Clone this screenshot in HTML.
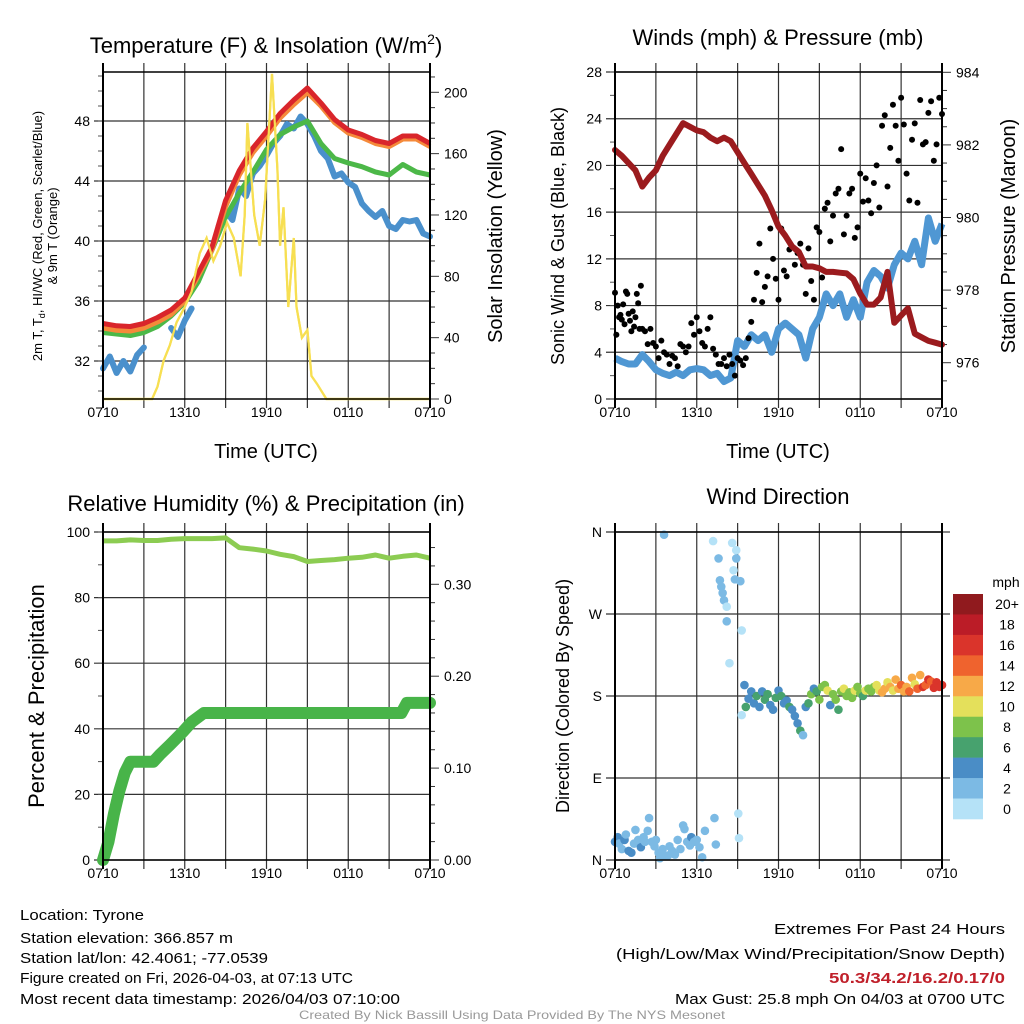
<!DOCTYPE html>
<html><head><meta charset="utf-8"><style>
html,body{margin:0;padding:0;background:#fff;}
svg{display:block;font-family:"Liberation Sans",sans-serif;}
</style></head><body>
<svg id="fig" width="1024" height="1024" viewBox="0 0 1024 1024" xmlns="http://www.w3.org/2000/svg">
<rect width="1024" height="1024" fill="#fff"/>
<g id="g1"></g>
<g id="g2"></g>
<g id="g3"></g>
<g id="g4"></g>
<text x="266" y="53" font-size="22" text-anchor="middle">Temperature (F) &amp; Insolation (W/m<tspan font-size="14" dy="-9">2</tspan><tspan dy="9">)</tspan></text>
<text x="778" y="45" font-size="22" text-anchor="middle">Winds (mph) &amp; Pressure (mb)</text>
<text x="266" y="511" font-size="22" text-anchor="middle">Relative Humidity (%) &amp; Precipitation (in)</text>
<text x="778" y="504" font-size="22" text-anchor="middle">Wind Direction</text>
<text transform="translate(42,236) rotate(-90)" font-size="13" text-anchor="middle">2m T, T<tspan font-size="9" dy="3">d</tspan><tspan dy="-3">, HI/WC (Red, Green, Scarlet/Blue)</tspan></text>
<text transform="translate(57,236) rotate(-90)" font-size="13" text-anchor="middle">&amp; 9m T (Orange)</text>
<text transform="translate(502,236) rotate(-90)" font-size="20" text-anchor="middle">Solar Insolation (Yellow)</text>
<text x="266" y="458" font-size="20" text-anchor="middle">Time (UTC)</text>
<text x="778" y="458" font-size="20" text-anchor="middle">Time (UTC)</text>
<text transform="translate(564,236) rotate(-90)" font-size="18" text-anchor="middle">Sonic Wind &amp; Gust (Blue, Black)</text>
<text transform="translate(1015,236) rotate(-90)" font-size="20" text-anchor="middle">Station Pressure (Maroon)</text>
<text transform="translate(44,696) rotate(-90)" font-size="22" text-anchor="middle">Percent &amp; Precipitation</text>
<text transform="translate(569,696) rotate(-90)" font-size="18" text-anchor="middle">Direction (Colored By Speed)</text>
<g font-size="15">
<text x="20" y="920" textLength="124" lengthAdjust="spacingAndGlyphs">Location: Tyrone</text>
<text x="20" y="943" textLength="213" lengthAdjust="spacingAndGlyphs">Station elevation: 366.857 m</text>
<text x="20" y="963" textLength="248" lengthAdjust="spacingAndGlyphs">Station lat/lon: 42.4061; -77.0539</text>
<text x="20" y="983" textLength="333" lengthAdjust="spacingAndGlyphs">Figure created on Fri, 2026-04-03, at 07:13 UTC</text>
<text x="20" y="1004" textLength="380" lengthAdjust="spacingAndGlyphs">Most recent data timestamp: 2026/04/03 07:10:00</text>
</g>
<g font-size="15" text-anchor="end">
<text x="1005" y="934" textLength="231" lengthAdjust="spacingAndGlyphs">Extremes For Past 24 Hours</text>
<text x="1005" y="959" textLength="389" lengthAdjust="spacingAndGlyphs">(High/Low/Max Wind/Precipitation/Snow Depth)</text>
<text x="1005" y="983" font-weight="bold" fill="#c0202a" textLength="176" lengthAdjust="spacingAndGlyphs">50.3/34.2/16.2/0.17/0</text>
<text x="1005" y="1004" textLength="330" lengthAdjust="spacingAndGlyphs">Max Gust: 25.8 mph On 04/03 at 0700 UTC</text>
</g>
<text x="512" y="1019" font-size="12" fill="#999" text-anchor="middle" textLength="426" lengthAdjust="spacingAndGlyphs">Created By Nick Bassill Using Data Provided By The NYS Mesonet</text>
</svg>
<script>
// ---- data ----
const xTickLabels = ["0710","1310","1910","0110","0710"];
const hourT = [0,1,2,3,4,5,6,7,8,9,10,11,12,13,14,15,16,17,18,19,20,21,22,23,24];
const tempRed = [34.5,34.35,34.3,34.5,34.9,35.4,36.2,37.9,39.6,42.7,44.7,46.2,47.3,48.5,49.4,50.2,49.2,48.1,47.4,47.1,46.7,46.5,47.0,47.0,46.5];
const tempOrange = [34.2,34.05,34.0,34.2,34.6,35.1,36.0,37.7,39.4,42.3,44.4,45.9,47.0,48.2,49.1,49.9,49.0,47.9,47.2,46.9,46.5,46.3,46.8,46.8,46.3];
const tempGreen = [33.9,33.8,33.7,33.9,34.3,35.0,35.9,37.3,39.4,41.6,43.2,44.6,46.1,47.1,47.6,48.0,46.5,45.5,45.2,44.95,44.6,44.4,45.1,44.6,44.4];
const halfT = [0,0.5,1,1.5,2,2.5,3,3.5,4,4.5,5,5.5,6,6.5,7,7.5,8,8.5,9,9.5,10,10.5,11,11.5,12,12.5,13,13.5,14,14.5,15,15.5,16,16.5,17,17.5,18,18.5,19,19.5,20,20.5,21,21.5,22,22.5,23,23.5,24];
const tempBlue = [31.5,32.3,31.2,32.0,31.3,32.4,32.9,null,null,null,34.2,33.6,34.7,35.5,null,null,null,41.0,42.0,41.4,43.5,43.0,44.5,45.0,45.7,46.5,47.0,47.8,47.5,48.3,47.8,47.0,46.0,45.5,44.3,44.5,43.9,43.6,42.5,42.0,41.6,42.0,41.0,40.8,41.4,41.3,41.4,40.5,40.3];
const solarT = [0,3.6,4.0,4.45,4.9,5.4,6.0,6.5,7.1,7.6,8.1,8.6,9.1,9.6,10.1,10.4,10.6,11.1,11.5,11.9,12.4,12.8,13.0,13.25,13.6,14.0,14.2,14.6,15.0,15.3,15.7,16.4,24];
const solarV = [0,0,8,25,35,50,60,70,95,105,90,100,115,105,80,120,180,120,100,130,212,150,100,125,60,105,60,40,45,15,10,0,0];
const windBlue = [3.5,3.2,3.0,3.0,3.8,3.2,2.5,2.2,2.0,2.3,2.0,2.5,2.6,2.5,2.0,2.2,1.5,1.8,5.0,4.5,5.5,5.0,5.5,4.0,6.0,6.5,6.0,5.5,3.5,6.0,7.0,9.0,8.0,9.0,7.0,8.5,7.0,10.0,11.0,10.5,9.5,11.5,12.5,12.0,13.5,11.5,15.5,13.5,15.0];
const pressure = [981.86,981.7,981.5,981.3,980.85,981.1,981.3,981.7,982.0,982.3,982.6,982.5,982.4,982.35,982.2,982.1,982.2,982.1,981.8,981.5,981.2,980.9,980.6,980.2,979.75,979.5,979.2,979.05,978.65,978.65,978.6,978.5,978.5,978.48,978.46,978.3,977.9,977.6,977.6,977.8,978.5,977.1,977.3,977.5,976.8,976.7,976.6,976.55,976.5];
const gustT = [0.0,0.1,0.2,0.3,0.4,0.5,0.6,0.7,0.8,0.9,1.0,1.1,1.2,1.3,1.4,1.5,1.6,1.7,1.8,1.9,2.0,2.2,2.4,2.6,2.8,3.0,3.2,3.4,3.6,3.8,4.0,4.2,4.4,4.6,4.8,5.0,5.2,5.4,5.6,5.8,6.0,6.2,6.4,6.6,6.8,7.0,7.2,7.4,7.6,7.8,8.0,8.2,8.4,8.6,8.8,9.0,9.2,9.4,9.6,9.8,10.0,10.2,10.4,10.6,10.8,11.0,11.2,11.4,11.6,11.8,12.0,12.2,12.4,12.6,12.8,13.0,13.2,13.4,13.6,13.8,14.0,14.2,14.4,14.6,14.8,15.0,15.2,15.4,15.6,15.8,16.0,16.2,16.4,16.6,16.8,17.0,17.2,17.4,17.6,17.8,18.0,18.2,18.4,18.6,18.8,19.0,19.2,19.4,19.6,19.8,20.0,20.2,20.4,20.6,20.8,21.0,21.2,21.4,21.6,21.8,22.0,22.2,22.4,22.6,22.8,23.0,23.2,23.4,23.6,23.8,24.0];
const gustV = [9.1,5.5,8.0,7.0,7.2,6.8,8.1,6.4,9.2,9.0,7.3,6.7,5.8,7.5,6.2,7.0,9.0,8.2,6.0,9.7,6.0,5.8,4.7,6.0,4.8,4.5,3.5,5.0,4.0,3.8,3.0,3.7,3.5,2.8,4.7,4.5,4.0,4.5,6.5,5.5,7.0,5.8,4.8,4.5,6.0,7.0,4.3,3.8,3.0,3.0,3.5,2.8,3.8,3.0,2.0,3.5,3.3,2.9,3.5,5.2,6.6,8.5,10.8,13.3,8.3,9.6,10.5,14.6,12.0,10.3,8.5,14.6,11.0,10.5,12.8,13.0,11.5,12.5,13.3,11.5,9.0,12.9,10.1,8.5,14.7,14.3,10.4,16.3,16.8,13.5,15.7,17.6,18.0,21.4,14.1,15.7,17.6,18.0,13.8,14.7,19.3,16.9,18.9,17.0,15.9,18.5,20.0,16.4,23.4,24.3,18.2,21.5,25.2,23.4,20.4,25.8,23.5,19.3,17.0,22.2,23.6,16.8,25.6,21.8,22.0,24.5,25.5,20.4,21.8,25.8,24.4];
const rh = [97.3,97.3,97.6,97.4,97.4,97.8,98.0,98.0,98.0,98.2,95.2,94.8,94.2,93.2,92.5,91.0,91.3,91.6,92.0,92.3,93.0,92.0,92.6,93.0,92.0];
const precipT = [0,0.4,0.8,1.2,1.6,2.0,3.7,4.2,4.9,5.9,6.5,7.4,21.9,22.3,24];
const precipV = [0,0.02,0.05,0.075,0.095,0.107,0.107,0.115,0.125,0.14,0.15,0.16,0.16,0.171,0.171];
const wdT = [0.0,0.2,0.3,0.5,0.7,0.8,1.0,1.2,1.4,1.5,1.7,1.9,2.1,2.2,2.4,2.5,2.7,2.9,3.0,3.2,3.3,3.5,3.7,3.9,4.0,4.2,4.4,4.6,4.8,5.0,5.1,5.3,5.5,5.6,5.8,6.0,6.2,6.4,6.6,7.3,7.4,
 3.6,7.2,7.6,7.7,7.8,7.9,8.0,8.2,8.2,8.4,8.6,8.7,8.8,8.9,8.9,9.05,9.1,9.2,9.3,
 9.3,9.5,9.6,9.8,10.0,10.2,10.4,10.6,10.8,11.0,11.2,11.4,11.6,11.8,12.0,12.2,12.4,12.6,12.8,13.0,13.2,13.4,13.6,13.8,14.0,14.2,14.4,14.6,14.8,15.0,15.2,15.4,15.6,15.8,16.0,16.2,16.4,16.6,16.8,17.0,17.2,17.4,17.6,17.8,18.0,18.2,18.4,18.6,18.8,19.0,19.2,19.4,19.6,19.8,20.0,20.2,20.4,20.6,20.8,21.0,21.2,21.4,21.6,21.8,22.0,22.2,22.4,22.6,22.8,23.0,23.2,23.4,23.6,23.8,24.0];
const wdDir = [20,25,18,12,22,28,10,8,18,33,22,14,25,20,32,46,20,15,22,8,2,12,4,5,15,10,6,22,12,38,34,20,16,25,20,22,14,3,32,46,17,
 357,350,331,307,300,293,285,278,262,216,348,318,308,340,331,51,24,306,252,
 159,192,168,177,185,172,180,168,185,176,182,170,165,178,186,180,172,175,168,165,158,150,142,137,168,172,182,188,185,176,190,192,186,170,182,176,165,185,188,180,184,178,186,190,183,180,186,188,185,190,192,186,184,188,195,190,186,198,188,192,185,190,185,200,193,188,203,190,192,198,196,189,195,190,192];
const wdSpd = [4,4,3,3,4,3,5,4,3,3,3,5,3,3,3,3,3,3,3,2,3,3,2,3,3,2,3,3,3,2,3,3,3,4,3,3,3,3,3,2,2,
 3,1,3,3,3,3,3,1,3,1,1,1,3,1,3,1,1,3,1,
 1,4,6,5,4,5,6,4,5,7,6,5,4,6,5,6,4,5,6,5,4,5,6,2,4,7,8,5,7,8,9,8,10,5,8,9,7,8,10,9,9,8,10,8,9,7,10,9,8,9,11,10,12,13,10,12,11,13,12,14,13,12,15,12,11,15,13,16,14,16,15,17,17,16,17];
const speedColors = ["#b5e2f7","#7cbae4","#4a8dc6","#47a26e","#7dc24b","#e4e05b","#f7a948","#ef632e","#da342b","#bb1c27","#901a1e"];
const speedLabels = ["0","2","4","6","8","10","12","14","16","18","20+"];

// ---- helpers ----
const NS="http://www.w3.org/2000/svg";
function mk(parent,tag,attrs){const e=document.createElementNS(NS,tag);for(const k in attrs)e.setAttribute(k,attrs[k]);parent.appendChild(e);return e;}
const X0=103, X1=430;
function axX(off){return t=>off+X0+t/24*(X1-X0);}
function linear(d0,d1,r0,r1){return v=>r0+(v-d0)/(d1-d0)*(r1-r0);}
function frame(g,off,top,bot){
  const xs=axX(off);
  for(let k=0;k<=8;k++){const x=xs(k*3);
    const l=mk(g,'line',{x1:x,x2:x,y1:top-9,y2:bot+9,stroke:'#333','stroke-width':1.2});
    
    
  }
  xTickLabels.forEach((s,i)=>{const t=mk(g,'text',{x:xs(i*6),y:bot+18,'font-size':14,'text-anchor':'middle'});t.textContent=s;
    
    
  });
}
function hgrid(g,off,ys,top,bot,label,minors,rightTicks){
  ys.forEach(([y,s])=>{
    const l=mk(g,'line',{x1:off+X0-9,x2:off+X1,y1:y,y2:y,stroke:'#333','stroke-width':1.2});
    
    
    const t=mk(g,'text',{x:off+X0-13,y:y+5,'font-size':14,'text-anchor':'end'});t.textContent=s;
    
    
  });
  (minors||[]).forEach(y=>mk(g,'line',{x1:off+X0-5,x2:off+X0,y1:y,y2:y,stroke:'#555','stroke-width':1}));
  (rightTicks||[]).forEach(([y,s,major])=>{
    mk(g,'line',{x1:off+X1,x2:off+X1+(major?9:5),y1:y,y2:y,stroke:'#333','stroke-width':1});
    if(s!==null){const t=mk(g,'text',{x:off+X1+14,y:y+5,'font-size':14});t.textContent=s;
      
      }
  });
}
function border(g,off,top,bot){
  mk(g,'line',{x1:off+X0,x2:off+X0,y1:top-9,y2:bot+9,stroke:'#000','stroke-width':2});
  mk(g,'line',{x1:off+X1,x2:off+X1,y1:top-9,y2:bot+9,stroke:'#000','stroke-width':2});
  mk(g,'line',{x1:off+X0,x2:off+X1,y1:top,y2:top,stroke:'#000','stroke-width':1.5});
  mk(g,'line',{x1:off+X0,x2:off+X1,y1:bot,y2:bot,stroke:'#000','stroke-width':1.5});
}
function pathFrom(ts,vs,xs,ys){let d='',pen=false;
  for(let i=0;i<ts.length;i++){if(vs[i]===null||vs[i]===undefined){pen=false;continue;}
    d+=(pen?'L':'M')+xs(ts[i]).toFixed(1)+','+ys(vs[i]).toFixed(1);pen=true;}
  return d;}

// ---- Panel 1: temperature ----
(function(){
  const g=document.getElementById('g1'); const top=72,bot=399;
  const xs=axX(0); const yT=linear(48,32,121,361); const yS=linear(0,200,399,92.3);
  frame(g,0,top,bot);
  const maj=[32,36,40,44,48].map(v=>[yT(v),String(v)]);
  const mins=[];for(let v=30;v<=51;v++)mins.push(yT(v));
  const rt=[];for(let v=0;v<=210;v+=10)rt.push([yS(v),v%40===0?String(v):null,v%40===0]);
  hgrid(g,0,maj,top,bot,null,mins,rt);
  const sol=mk(g,'path',{d:pathFrom(solarT,solarV,xs,yS),fill:'none',stroke:'#f7df52','stroke-width':2.2});
  
  
  const b=mk(g,'path',{d:pathFrom(halfT,tempBlue,xs,yT),fill:'none',stroke:'#4a90cc','stroke-width':6,'stroke-linejoin':'round','stroke-linecap':'round'});
  
  
  const gr=mk(g,'path',{d:pathFrom(hourT,tempGreen,xs,yT),fill:'none',stroke:'#4cb848','stroke-width':5,'stroke-linejoin':'round'});
  
  
  const o=mk(g,'path',{d:pathFrom(hourT,tempOrange,xs,yT),fill:'none',stroke:'#f58a3a','stroke-width':5,'stroke-linejoin':'round'});
  
  
  const r=mk(g,'path',{d:pathFrom(hourT,tempRed,xs,yT),fill:'none',stroke:'#d9252b','stroke-width':5,'stroke-linejoin':'round'});
  
  
  const sol2=mk(g,'path',{d:pathFrom(solarT,solarV,xs,yS),fill:'none',stroke:'#f7df52','stroke-width':2.2});
  
  
  border(g,0,top,bot);
})();

// ---- Panel 2: wind & pressure ----
(function(){
  const off=512; const g=document.getElementById('g2'); const top=72,bot=399;
  const xs=axX(off); const yW=linear(0,28,399,72); const yP=linear(976,984,362.7,72.3);
  frame(g,off,top,bot);
  const maj=[0,4,8,12,16,20,24,28].map(v=>[yW(v),String(v)]);
  const mins=[];for(let v=0;v<=28;v+=2)mins.push(yW(v));
  const rt=[];for(let v=975.5;v<=984;v+=0.5)rt.push([yP(v),(v%2===0)?String(v):null,v%2===0]);
  hgrid(g,off,maj,top,bot,null,mins,rt);
  const w=mk(g,'path',{d:pathFrom(halfT,windBlue,xs,yW),fill:'none',stroke:'#4f97d3','stroke-width':7,'stroke-linejoin':'round'});
  
  
  for(let i=0;i<gustT.length;i++){
    const c=mk(g,'circle',{cx:xs(gustT[i]),cy:yW(gustV[i]),r:3,fill:'#000'});
    
    
  }
  const p=mk(g,'path',{d:pathFrom(halfT,pressure,xs,yP),fill:'none',stroke:'#9b1b1e','stroke-width':6,'stroke-linejoin':'round','stroke-linecap':'round'});
  
  
  border(g,off,top,bot);
})();

// ---- Panel 3: RH & precip ----
(function(){
  const g=document.getElementById('g3'); const top=532,bot=860;
  const xs=axX(0); const yR=linear(0,100,860,532); const yPr=linear(0,0.30,860,584.3);
  frame(g,0,top,bot);
  const maj=[0,20,40,60,80,100].map(v=>[yR(v),String(v)]);
  const mins=[];for(let v=0;v<=100;v+=10)mins.push(yR(v));
  const rt=[];for(let k=0;k<=35;k+=2)rt.push([yPr(k/100),k%10===0?(k/100).toFixed(2):null,k%10===0]);
  hgrid(g,0,maj,top,bot,null,mins,rt);
  const rl=mk(g,'path',{d:pathFrom(hourT,rh,xs,yR),fill:'none',stroke:'#8ccc52','stroke-width':5,'stroke-linejoin':'round'});
  
  
  const pl=mk(g,'path',{d:pathFrom(precipT,precipV,xs,yPr),fill:'none',stroke:'#48b449','stroke-width':12,'stroke-linejoin':'round','stroke-linecap':'round'});
  
  
  border(g,0,top,bot);
})();

// ---- Panel 4: wind direction ----
(function(){
  const off=512; const g=document.getElementById('g4'); const top=532,bot=860;
  const xs=axX(off); const yD=linear(0,360,860,532);
  frame(g,off,top,bot);
  const maj=[[0,'N'],[90,'E'],[180,'S'],[270,'W'],[360,'N']].map(([v,s])=>[yD(v),s]);
  hgrid(g,off,maj,top,bot,null,[],[]);
  maj.forEach(([y])=>mk(g,'line',{x1:off+X1,x2:off+X1+8,y1:y,y2:y,stroke:'#333','stroke-width':1.2}));
  for(let i=0;i<wdT.length;i++){
    const idx=Math.min(10,Math.floor(wdSpd[i]/2));
    const c=mk(g,'circle',{cx:xs(wdT[i]),cy:yD(wdDir[i]),r:4.3,fill:speedColors[idx]});
    
    
  }
  border(g,off,top,bot);
  const cb=mk(g,'g',{});
  
  
  const t=mk(cb,'text',{x:1006,y:587,'font-size':14,'text-anchor':'middle'});t.textContent='mph';
  const h=(819-594)/11;
  for(let k=0;k<11;k++){
    const j=10-k; const y=594+k*h;
    const r=mk(cb,'rect',{x:953,y:y,width:30,height:h+0.3,fill:speedColors[j]});
    
    
    const l=mk(cb,'text',{x:1007,y:y+h/2+5,'font-size':14,'text-anchor':'middle'});l.textContent=speedLabels[j];
    
    
  }
})();
</script>
</body></html>
